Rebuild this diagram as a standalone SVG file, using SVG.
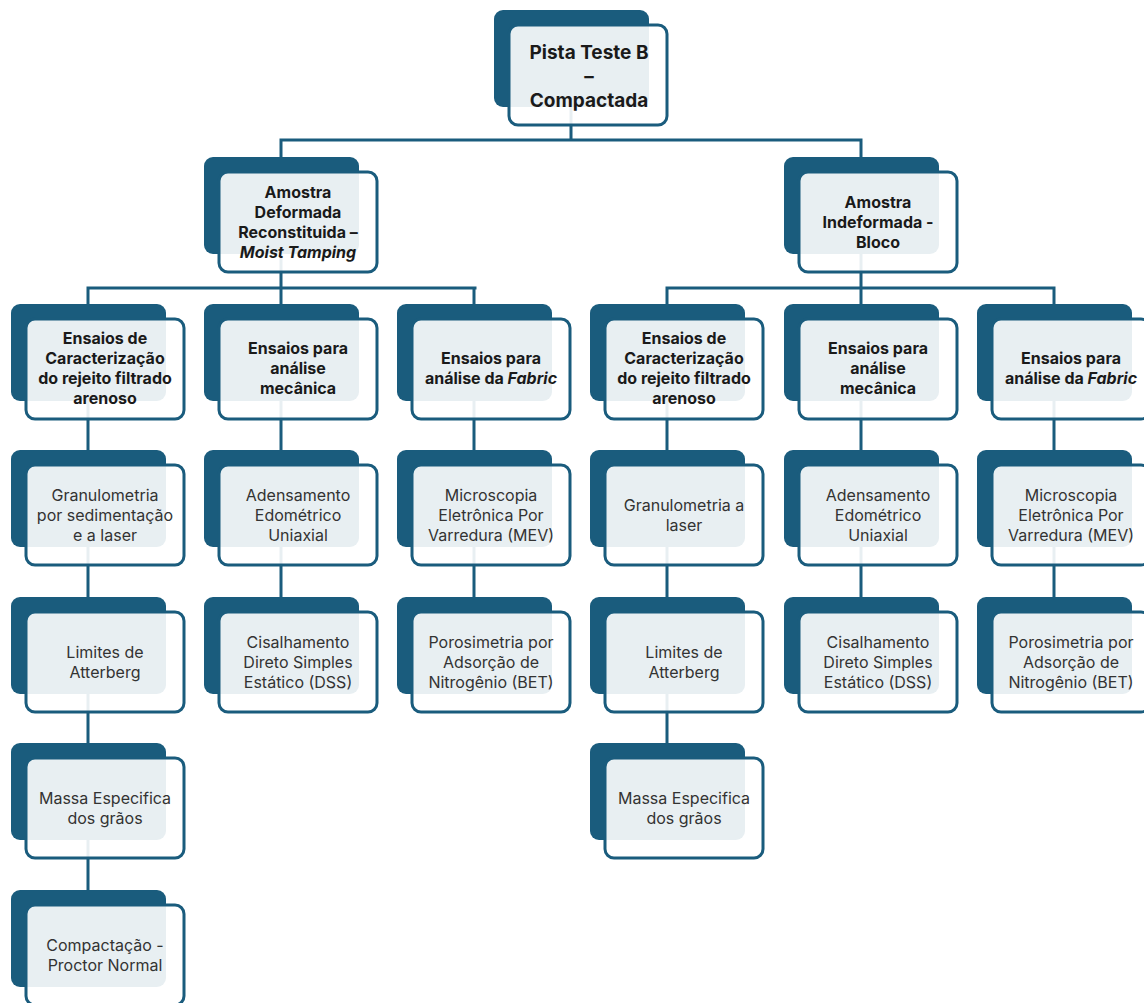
<svg xmlns="http://www.w3.org/2000/svg" width="1144" height="1003" viewBox="0 0 1144 1003">
<style>
.back{fill:#1a5c7d}
.front{fill:#fff;fill-opacity:0.9;stroke:#1a5c7d;stroke-width:3}
.con{fill:none;stroke:#1a5c7d;stroke-width:3}
.b{font-family:Inter,"Open Sans",sans-serif;font-weight:700;font-size:16px;fill:#1a1a1a;text-anchor:middle}
.t{font-family:Inter,"Open Sans",sans-serif;font-weight:700;font-size:19px;fill:#1a1a1a;text-anchor:middle}
.r{font-family:Inter,"Open Sans",sans-serif;font-weight:400;font-size:16px;fill:#333;text-anchor:middle}
.i{font-style:italic}
</style>
<rect width="1144" height="1003" fill="#fff"/>
<g id="connectors">
<path class="con" d="M571 60V140M279.5 140H862.5M281 140V190M861 140V190"/>
<path class="con" d="M281 200V288M86.5 288H476.5M88 288V330M281 288V330M474 288V330"/>
<path class="con" d="M861 200V288M665.5 288H1055.5M667 288V330M861 288V330M1054 288V330"/>
<path class="con" d="M88 330V920M281 330V630M474 330V630M667 330V780M861 330V630M1054 330V630"/>
</g>
<g id="n0"><rect class="back" x="494" y="10" width="155" height="97" rx="9"/><rect class="front" x="509" y="25" width="158" height="100" rx="9"/>
<text class="t" x="589" y="59">Pista Teste B</text><text class="t" x="589" y="83">–</text><text class="t" x="589" y="107">Compactada</text></g>
<g id="n1"><rect class="back" x="204" y="157" width="155" height="97" rx="9"/><rect class="front" x="219" y="172" width="158" height="100" rx="9"/>
<text class="b" x="298" y="198">Amostra</text><text class="b" x="298" y="218">Deformada</text><text class="b" x="298" y="238">Reconstituida –</text><text class="b i" x="298" y="258">Moist Tamping</text></g>
<g id="n2"><rect class="back" x="784" y="157" width="155" height="97" rx="9"/><rect class="front" x="799" y="172" width="158" height="100" rx="9"/>
<text class="b" x="878" y="208">Amostra</text><text class="b" x="878" y="228">Indeformada -</text><text class="b" x="878" y="248">Bloco</text></g>
<g id="n3"><rect class="back" x="11" y="304" width="155" height="97" rx="9"/><rect class="front" x="26" y="319" width="158" height="100" rx="9"/>
<text class="b" x="105" y="344">Ensaios de</text><text class="b" x="105" y="364">Caracterização</text><text class="b" x="105" y="384">do rejeito filtrado</text><text class="b" x="105" y="404">arenoso</text></g>
<g id="n4"><rect class="back" x="204" y="304" width="155" height="97" rx="9"/><rect class="front" x="219" y="319" width="158" height="100" rx="9"/>
<text class="b" x="298" y="354">Ensaios para</text><text class="b" x="298" y="374">análise</text><text class="b" x="298" y="394">mecânica</text></g>
<g id="n5"><rect class="back" x="397" y="304" width="155" height="97" rx="9"/><rect class="front" x="412" y="319" width="158" height="100" rx="9"/>
<text class="b" x="491" y="364">Ensaios para</text><text class="b" x="491" y="384">análise da <tspan class="i">Fabric</tspan></text></g>
<g id="n6"><rect class="back" x="590" y="304" width="155" height="97" rx="9"/><rect class="front" x="605" y="319" width="158" height="100" rx="9"/>
<text class="b" x="684" y="344">Ensaios de</text><text class="b" x="684" y="364">Caracterização</text><text class="b" x="684" y="384">do rejeito filtrado</text><text class="b" x="684" y="404">arenoso</text></g>
<g id="n7"><rect class="back" x="784" y="304" width="155" height="97" rx="9"/><rect class="front" x="799" y="319" width="158" height="100" rx="9"/>
<text class="b" x="878" y="354">Ensaios para</text><text class="b" x="878" y="374">análise</text><text class="b" x="878" y="394">mecânica</text></g>
<g id="n8"><rect class="back" x="977" y="304" width="155" height="97" rx="9"/><rect class="front" x="992" y="319" width="158" height="100" rx="9"/>
<text class="b" x="1071" y="364">Ensaios para</text><text class="b" x="1071" y="384">análise da <tspan class="i">Fabric</tspan></text></g>
<g id="n9"><rect class="back" x="11" y="450" width="155" height="97" rx="9"/><rect class="front" x="26" y="465" width="158" height="100" rx="9"/>
<text class="r" x="105" y="501">Granulometria</text><text class="r" x="105" y="521">por sedimentação</text><text class="r" x="105" y="541">e a laser</text></g>
<g id="n10"><rect class="back" x="204" y="450" width="155" height="97" rx="9"/><rect class="front" x="219" y="465" width="158" height="100" rx="9"/>
<text class="r" x="298" y="501">Adensamento</text><text class="r" x="298" y="521">Edométrico</text><text class="r" x="298" y="541">Uniaxial</text></g>
<g id="n11"><rect class="back" x="397" y="450" width="155" height="97" rx="9"/><rect class="front" x="412" y="465" width="158" height="100" rx="9"/>
<text class="r" x="491" y="501">Microscopia</text><text class="r" x="491" y="521">Eletrônica Por</text><text class="r" x="491" y="541">Varredura (MEV)</text></g>
<g id="n12"><rect class="back" x="590" y="450" width="155" height="97" rx="9"/><rect class="front" x="605" y="465" width="158" height="100" rx="9"/>
<text class="r" x="684" y="511">Granulometria a</text><text class="r" x="684" y="531">laser</text></g>
<g id="n13"><rect class="back" x="784" y="450" width="155" height="97" rx="9"/><rect class="front" x="799" y="465" width="158" height="100" rx="9"/>
<text class="r" x="878" y="501">Adensamento</text><text class="r" x="878" y="521">Edométrico</text><text class="r" x="878" y="541">Uniaxial</text></g>
<g id="n14"><rect class="back" x="977" y="450" width="155" height="97" rx="9"/><rect class="front" x="992" y="465" width="158" height="100" rx="9"/>
<text class="r" x="1071" y="501">Microscopia</text><text class="r" x="1071" y="521">Eletrônica Por</text><text class="r" x="1071" y="541">Varredura (MEV)</text></g>
<g id="n15"><rect class="back" x="11" y="597" width="155" height="97" rx="9"/><rect class="front" x="26" y="612" width="158" height="100" rx="9"/>
<text class="r" x="105" y="658">Limites de</text><text class="r" x="105" y="678">Atterberg</text></g>
<g id="n16"><rect class="back" x="204" y="597" width="155" height="97" rx="9"/><rect class="front" x="219" y="612" width="158" height="100" rx="9"/>
<text class="r" x="298" y="648">Cisalhamento</text><text class="r" x="298" y="668">Direto Simples</text><text class="r" x="298" y="688">Estático (DSS)</text></g>
<g id="n17"><rect class="back" x="397" y="597" width="155" height="97" rx="9"/><rect class="front" x="412" y="612" width="158" height="100" rx="9"/>
<text class="r" x="491" y="648">Porosimetria por</text><text class="r" x="491" y="668">Adsorção de</text><text class="r" x="491" y="688">Nitrogênio (BET)</text></g>
<g id="n18"><rect class="back" x="590" y="597" width="155" height="97" rx="9"/><rect class="front" x="605" y="612" width="158" height="100" rx="9"/>
<text class="r" x="684" y="658">Limites de</text><text class="r" x="684" y="678">Atterberg</text></g>
<g id="n19"><rect class="back" x="784" y="597" width="155" height="97" rx="9"/><rect class="front" x="799" y="612" width="158" height="100" rx="9"/>
<text class="r" x="878" y="648">Cisalhamento</text><text class="r" x="878" y="668">Direto Simples</text><text class="r" x="878" y="688">Estático (DSS)</text></g>
<g id="n20"><rect class="back" x="977" y="597" width="155" height="97" rx="9"/><rect class="front" x="992" y="612" width="158" height="100" rx="9"/>
<text class="r" x="1071" y="648">Porosimetria por</text><text class="r" x="1071" y="668">Adsorção de</text><text class="r" x="1071" y="688">Nitrogênio (BET)</text></g>
<g id="n21"><rect class="back" x="11" y="743" width="155" height="97" rx="9"/><rect class="front" x="26" y="758" width="158" height="100" rx="9"/>
<text class="r" x="105" y="804">Massa Especifica</text><text class="r" x="105" y="824">dos grãos</text></g>
<g id="n22"><rect class="back" x="590" y="743" width="155" height="97" rx="9"/><rect class="front" x="605" y="758" width="158" height="100" rx="9"/>
<text class="r" x="684" y="804">Massa Especifica</text><text class="r" x="684" y="824">dos grãos</text></g>
<g id="n23"><rect class="back" x="11" y="890" width="155" height="97" rx="9"/><rect class="front" x="26" y="905" width="158" height="100" rx="9"/>
<text class="r" x="105" y="951">Compactação -</text><text class="r" x="105" y="971">Proctor Normal</text></g>
</svg>
